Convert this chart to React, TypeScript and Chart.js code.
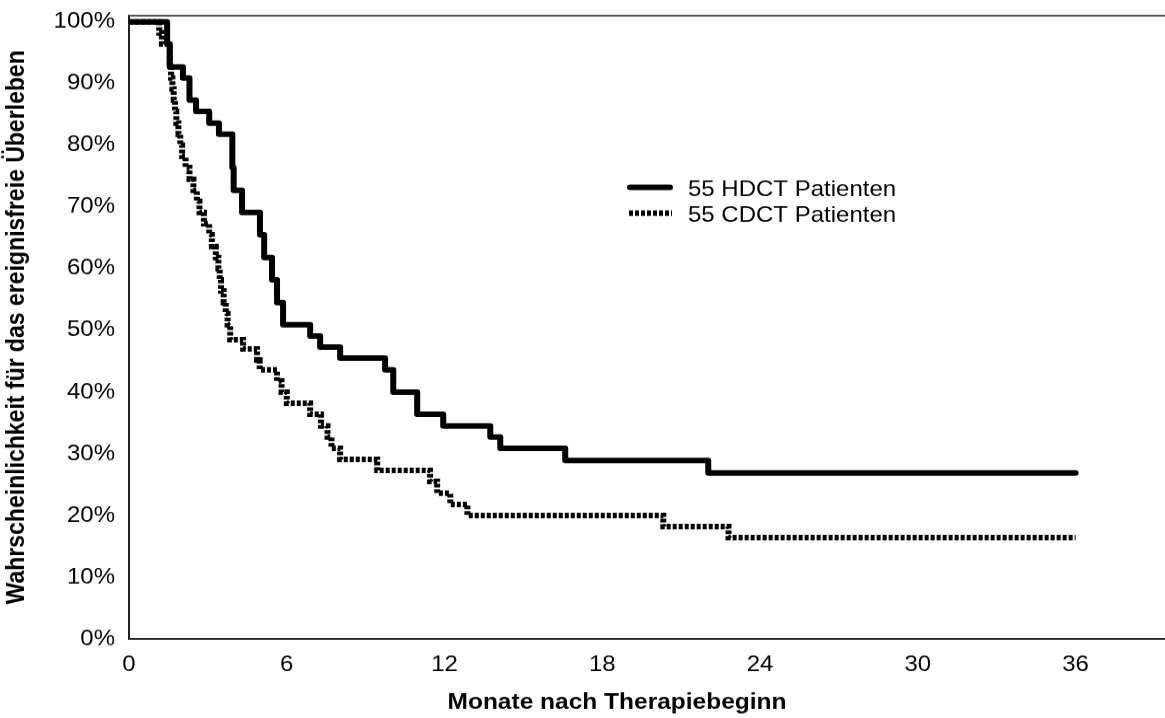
import React, { useEffect, useRef } from 'react';
import { Chart, registerables } from 'chart.js';

Chart.register(...registerables);

// ---- data (months after therapy start, event-free survival in %) ----
const hdctMonths = [0, 1.45, 1.55, 2.05, 2.3, 2.55, 3.05, 3.42, 3.93, 3.98, 4.3, 4.98, 5.14, 5.44, 5.63, 5.86, 6.89, 7.27, 8.03, 9.74, 10.05, 10.96, 11.95, 13.74, 14.12, 16.59, 22.03, 36];
const hdctSurvival = [100, 96.4, 92.7, 90.9, 87.3, 85.5, 83.6, 81.8, 76.4, 72.7, 69.1, 65.5, 61.8, 58.2, 54.5, 50.9, 49.1, 47.3, 45.5, 43.6, 40.0, 36.4, 34.5, 32.7, 30.9, 28.9, 26.9, 26.9];

const cdctMonths = [0, 1.15, 1.25, 1.55, 1.6, 1.65, 1.7, 1.75, 1.8, 1.88, 1.95, 2.02, 2.15, 2.3, 2.45, 2.58, 2.68, 2.85, 3.05, 3.15, 3.3, 3.4, 3.45, 3.5, 3.6, 3.68, 3.75, 3.85, 4.34, 4.87, 4.97, 5.63, 5.8, 6.0, 6.89, 7.3, 7.55, 7.7, 8.03, 9.44, 11.45, 11.72, 12.22, 12.87, 20.32, 22.8, 36];
const cdctSurvival = [100, 98.2, 96.4, 92.7, 90.9, 89.1, 87.3, 85.5, 83.6, 81.8, 80.0, 78.2, 76.4, 74.5, 72.7, 70.9, 69.1, 67.3, 65.5, 63.6, 61.8, 60.0, 58.2, 56.4, 54.5, 52.7, 50.9, 48.5, 47.0, 45.2, 43.6, 41.8, 40.0, 38.2, 36.4, 34.5, 32.7, 30.9, 29.1, 27.3, 25.5, 23.6, 21.8, 20.0, 18.2, 16.4, 16.4];

const seriesLabels = ['55 HDCT Patienten', '55 CDCT Patienten'];
const xTickValues = [0, 6, 12, 18, 24, 30, 36];
const yTickValues = [0, 10, 20, 30, 40, 50, 60, 70, 80, 90, 100];
const xTitle = 'Monate nach Therapiebeginn';
const yTitle = 'Wahrscheinlichkeit für das ereignisfreie Überleben';

// ---- layout ----
const W = 1165;
const H = 718;
const CH = 780; // canvas drawn taller, then squashed to H
const SY = H / CH;
const FONT = "'Liberation Sans', Arial, Helvetica, sans-serif";

const toPoints = (xs: number[], ys: number[]) => xs.map((x, i) => ({ x, y: ys[i] }));

const framePlugin = {
  id: 'topFrame',
  beforeDatasetsDraw(chart: any) {
    const { ctx, chartArea } = chart;
    ctx.save();
    ctx.strokeStyle = '#555';
    ctx.lineWidth = 2;
    ctx.beginPath();
    ctx.moveTo(chartArea.left, chartArea.top);
    ctx.lineTo(chartArea.right, chartArea.top);
    ctx.stroke();
    ctx.restore();
  },
};

const xTitlePlugin = {
  id: 'xTitle',
  afterDraw(chart: any) {
    const { ctx } = chart;
    ctx.save();
    ctx.fillStyle = '#000';
    ctx.font = `bold 24.5px ${FONT}`;
    ctx.textAlign = 'center';
    ctx.textBaseline = 'middle';
    ctx.fillText(xTitle, 617, 763);
    ctx.restore();
  },
};

const legendPlugin = {
  id: 'kmLegend',
  afterDatasetsDraw(chart: any) {
    const { ctx } = chart;
    const rows = [203.5, 231.5];
    chart.data.datasets.forEach((ds: any, i: number) => {
      const y = rows[i];
      ctx.save();
      ctx.strokeStyle = ds.borderColor;
      ctx.lineWidth = ds.borderWidth;
      ctx.lineCap = ds.borderCapStyle || 'butt';
      ctx.setLineDash(ds.borderDash || []);
      ctx.beginPath();
      if (i === 0) {
        ctx.moveTo(630, y);
        ctx.lineTo(670, y);
      } else {
        ctx.moveTo(629, y);
        ctx.lineTo(672, y);
      }
      ctx.stroke();
      ctx.setLineDash([]);
      ctx.fillStyle = '#000';
      ctx.font = `24px ${FONT}`;
      ctx.textBaseline = 'middle';
      ctx.textAlign = 'left';
      ctx.fillText(ds.label, 688, y + 3);
      ctx.restore();
    });
  },
};

export default function App() {
  const canvasRef = useRef<HTMLCanvasElement | null>(null);

  useEffect(() => {
    document.body.style.margin = '0';
    const canvas = canvasRef.current;
    if (!canvas) return;
    const chart = new Chart(canvas, {
      type: 'line',
      data: {
        datasets: [
          {
            label: seriesLabels[0],
            data: toPoints(hdctMonths, hdctSurvival),
            borderColor: '#000',
            borderWidth: 6,
            stepped: 'before',
            pointRadius: 0,
            fill: false,
            borderCapStyle: 'round',
            borderJoinStyle: 'round',
          },
          {
            label: seriesLabels[1],
            data: toPoints(cdctMonths, cdctSurvival),
            borderColor: '#000',
            borderWidth: 6,
            borderDash: [4, 2],
            stepped: 'before',
            pointRadius: 0,
            fill: false,
            borderCapStyle: 'butt',
            borderJoinStyle: 'miter',
          },
        ],
      },
      options: {
        responsive: false,
        animation: false,
        devicePixelRatio: 1,
        events: [],
        layout: { padding: { top: 17, left: 0, right: 0, bottom: 0 } },
        plugins: {
          legend: { display: false },
          tooltip: { enabled: false },
        },
        scales: {
          x: {
            type: 'linear',
            min: 0,
            max: 39.4,
            afterBuildTicks: (s: any) => {
              s.ticks = xTickValues.map((v) => ({ value: v }));
            },
            afterFit: (s: any) => {
              s.height = CH - 694;
              s.paddingLeft = 0;
              s.paddingRight = 0;
            },
            grid: { display: false, drawTicks: false },
            border: { display: true, color: '#222', width: 2 },
            ticks: {
              color: '#000',
              font: { family: FONT, size: 24 },
              padding: 14,
              maxRotation: 0,
              autoSkip: false,
            },
            title: { display: false, text: xTitle },
          },
          y: {
            type: 'linear',
            min: 0,
            max: 101,
            afterBuildTicks: (s: any) => {
              s.ticks = yTickValues.map((v) => ({ value: v }));
            },
            afterFit: (s: any) => {
              s.width = 129;
              s.paddingTop = 0;
              s.paddingBottom = 0;
            },
            grid: { display: false, drawTicks: false },
            border: { display: true, color: '#222', width: 2 },
            ticks: {
              color: '#000',
              font: { family: FONT, size: 24 },
              padding: 14,
              callback: (v: any) => `${v}%`,
            },
            title: {
              display: true,
              text: yTitle,
              color: '#000',
              font: { family: FONT, size: 25, weight: 'bold' },
              padding: { top: 2, bottom: 0 },
            },
          },
        },
      },
      plugins: [framePlugin, legendPlugin, xTitlePlugin],
    } as any);
    return () => chart.destroy();
  }, []);

  return (
    <div style={{ width: W, height: H, overflow: 'hidden', background: '#fff' }}>
      <div style={{ width: W, height: CH, transform: `scaleY(${SY})`, transformOrigin: '0 0' }}>
        <canvas ref={canvasRef} width={W} height={CH} style={{ display: 'block' }} />
      </div>
    </div>
  );
}
